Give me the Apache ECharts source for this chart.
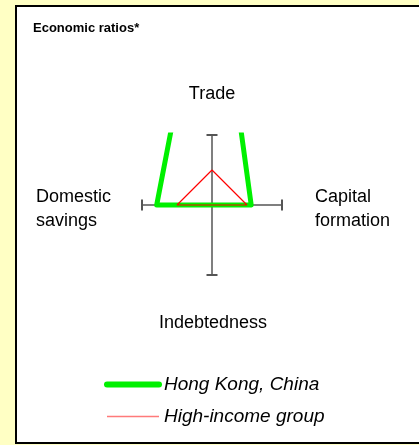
<!DOCTYPE html>
<html>
<head>
<meta charset="utf-8">
<script src="https://cdn.jsdelivr.net/npm/echarts@6/dist/echarts.min.js"></script>
<style>
  html, body { margin: 0; padding: 0; background: #ffffc4; }
  #chart { width: 419px; height: 445px; }
</style>
</head>
<body>
<div id="chart"></div>
<script>
// ============ data ============
// axes go round clockwise from the top
const axisNames = ['Trade', 'Capital formation', 'Indebtedness', 'Domestic savings']
const seriesNames = ['Hong Kong, China', 'High-income group']
const hongKong = [4.1, 0.56, 0, 0.79]
const highIncome = [0.5, 0.5, 0, 0.5]

// value on each axis -> point on the cross (top, right, bottom, left), closed polygon
const toCross = (vals) => {
  const dirs = [[0, 1], [1, 0], [0, -1], [-1, 0]]
  const pts = vals.map((v, i) => [dirs[i][0] * v, dirs[i][1] * v])
  pts.push(pts[0])
  return pts
}

const chart = echarts.init(document.getElementById('chart'))
const font = 'Liberation Sans, Arial, sans-serif'
const axisColor = '#555'
const labelStyle = { font: '18px ' + font, fill: '#000', lineHeight: 24 }

chart.setOption({
  backgroundColor: '#ffffc4',
  animation: false,
  graphic: [
    {
      type: 'rect',
      shape: { x: 16, y: 6, width: 430, height: 437 },
      style: { fill: '#fff', stroke: '#000', lineWidth: 2 },
      z: -10
    },
    {
      type: 'text', left: 33, top: 22,
      style: { text: 'Economic ratios*', font: 'bold 13px ' + font, fill: '#000' }
    },
    {
      type: 'text', x: 212, y: 94,
      style: { ...labelStyle, text: axisNames[0], align: 'center', verticalAlign: 'middle' }
    },
    {
      type: 'text', x: 315, y: 209,
      style: { ...labelStyle, text: 'Capital\nformation', verticalAlign: 'middle' }
    },
    {
      type: 'text', x: 213, y: 323,
      style: { ...labelStyle, text: axisNames[2], align: 'center', verticalAlign: 'middle' }
    },
    {
      type: 'text', x: 36, y: 209,
      style: { ...labelStyle, text: 'Domestic\nsavings', verticalAlign: 'middle' }
    }
  ],
  grid: { left: 142, top: 135, width: 140, height: 140 },
  xAxis: {
    type: 'value', min: -1, max: 1,
    axisLine: { show: true, onZero: true, symbol: ['rect', 'rect'], symbolSize: [11, 2], lineStyle: { color: axisColor, width: 1.5 } },
    axisTick: { show: false }, axisLabel: { show: false }, splitLine: { show: false }
  },
  yAxis: {
    type: 'value', min: -1, max: 1,
    axisLine: { show: true, onZero: true, symbol: ['rect', 'rect'], symbolSize: [11, 2], lineStyle: { color: axisColor, width: 1.5 } },
    axisTick: { show: false }, axisLabel: { show: false }, splitLine: { show: false }
  },
  legend: {
    orient: 'vertical',
    left: 104, top: 375, padding: 0,
    itemWidth: 52, itemHeight: 14, itemGap: 13,
    selectedMode: false,
    textStyle: { fontFamily: font, fontSize: 19, fontStyle: 'italic', color: '#000' },
    data: [
      { name: seriesNames[0], lineStyle: { width: 6, cap: 'round' }, itemStyle: { opacity: 0 } },
      { name: seriesNames[1], lineStyle: { width: 1.5, color: '#ff7a7a' }, itemStyle: { opacity: 0 } }
    ]
  },
  series: [
    {
      name: seriesNames[0], type: 'line', data: toCross(hongKong),
      symbol: 'none', clip: true,
      lineStyle: { color: '#00f000', width: 5, join: 'round' },
      itemStyle: { color: '#00f000' }
    },
    {
      name: seriesNames[1], type: 'line', data: toCross(highIncome),
      symbol: 'none', clip: true,
      lineStyle: { color: '#ff0000', width: 1.2 },
      itemStyle: { color: '#ff0000' }
    }
  ]
})
</script>
</body>
</html>
